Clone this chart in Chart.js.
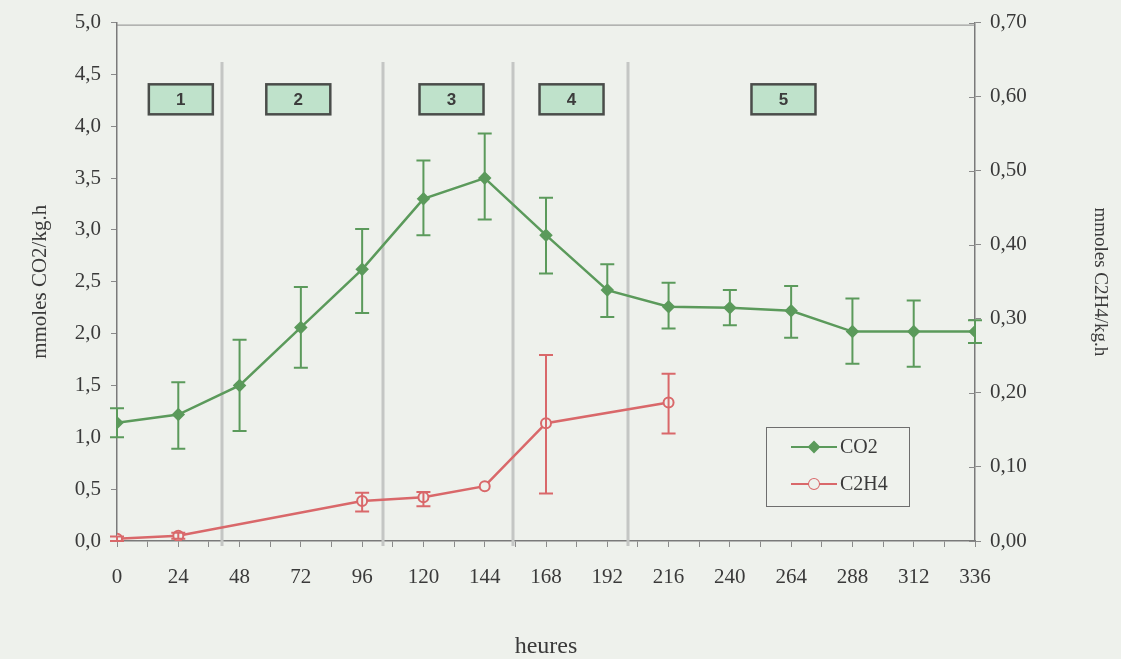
<!DOCTYPE html>
<html>
<head>
<meta charset="utf-8">
<script src="https://cdn.jsdelivr.net/npm/chart.js@4.4.0/dist/chart.umd.min.js"></script>
<style>
  html, body { margin: 0; padding: 0; background: #eef1ec; }
  #wrap { width: 1121px; height: 659px; }
</style>
</head>
<body>
<div id="wrap"><canvas id="myChart" width="1121" height="659"></canvas></div>
<script>
// CO2 (left axis, mmoles/kg.h)
const co2Hours = [0, 24, 48, 72, 96, 120, 144, 168, 192, 216, 240, 264, 288, 312, 336];
const co2Values = [1.14, 1.22, 1.50, 2.06, 2.62, 3.30, 3.50, 2.95, 2.42, 2.26, 2.25, 2.22, 2.02, 2.02, 2.02];
const co2High = [1.28, 1.53, 1.94, 2.45, 3.01, 3.67, 3.93, 3.31, 2.67, 2.49, 2.42, 2.46, 2.34, 2.32, 2.13];
const co2Low = [1.00, 0.89, 1.06, 1.67, 2.20, 2.95, 3.10, 2.58, 2.16, 2.05, 2.08, 1.96, 1.71, 1.68, 1.91];

// C2H4 (right axis)
const c2h4Hours = [0, 24, 96, 120, 144, 168, 216];
const c2h4Values = [0.003, 0.007, 0.054, 0.059, 0.074, 0.159, 0.187];
const c2h4High = [0.006, 0.011, 0.065, 0.066, 0.076, 0.251, 0.226];
const c2h4Low = [0.000, 0.003, 0.040, 0.047, 0.072, 0.064, 0.145];

// phases
const phaseBounds = [41, 104, 155, 200];
const phaseLabels = ['1', '2', '3', '4', '5'];
const phaseCenters = [25, 71, 131, 178, 261];

const GREEN = '#5b9a5b';
const RED = '#d9686a';
const SERIF = '"Liberation Serif", "DejaVu Serif", serif';

function toPoints(xs, ys) {
    return xs.map((x, i) => ({ x: x, y: ys[i] }));
}

// phase separators + numbered boxes
const phasePlugin = {
    id: 'phases',
    beforeDatasetsDraw(chart) {
        const ctx = chart.ctx;
        const xs = chart.scales.x;
        const ys = chart.scales.y;
        const area = chart.chartArea;
        ctx.save();
        ctx.strokeStyle = '#c4c6c4';
        ctx.lineWidth = 3;
        phaseBounds.forEach(h => {
            const px = Math.round(xs.getPixelForValue(h));
            ctx.beginPath();
            ctx.moveTo(px, ys.getPixelForValue(4.62));
            ctx.lineTo(px, area.bottom + 5);
            ctx.stroke();
        });
        const cy = ys.getPixelForValue(4.26);
        ctx.font = 'bold 17px "Liberation Sans", Arial, sans-serif';
        ctx.textAlign = 'center';
        ctx.textBaseline = 'middle';
        phaseLabels.forEach((lab, i) => {
            const cx = xs.getPixelForValue(phaseCenters[i]);
            ctx.fillStyle = '#bfe2cb';
            ctx.fillRect(cx - 32, cy - 15, 64, 30);
            ctx.strokeStyle = '#4a4d4a';
            ctx.lineWidth = 2.5;
            ctx.strokeRect(cx - 32, cy - 15, 64, 30);
            ctx.fillStyle = '#3c3c3c';
            ctx.fillText(lab, cx, cy + 1);
        });
        // top border of the plot box
        ctx.strokeStyle = '#8a8a8a';
        ctx.lineWidth = 1;
        ctx.beginPath();
        ctx.moveTo(area.left, area.top + 2.5);
        ctx.lineTo(area.right, area.top + 2.5);
        ctx.stroke();
        // right axis ticks also cross inside
        const y1 = chart.scales.y1;
        ctx.beginPath();
        y1.ticks.forEach(t => {
            const py = Math.round(y1.getPixelForValue(t.value)) + 0.5;
            ctx.moveTo(area.right - 6, py);
            ctx.lineTo(area.right, py);
        });
        ctx.stroke();
        ctx.restore();
    }
};

// error bars drawn through the scales
const errorBarPlugin = {
    id: 'errorBars',
    afterDatasetsDraw(chart) {
        const ctx = chart.ctx;
        const xs = chart.scales.x;
        const sets = [
            { hours: co2Hours, low: co2Low, high: co2High, axis: chart.scales.y, color: GREEN },
            { hours: c2h4Hours, low: c2h4Low, high: c2h4High, axis: chart.scales.y1, color: RED }
        ];
        ctx.save();
        sets.forEach(s => {
            ctx.strokeStyle = s.color;
            ctx.lineWidth = 2;
            s.hours.forEach((h, i) => {
                const px = xs.getPixelForValue(h);
                const top = s.axis.getPixelForValue(s.high[i]);
                const bot = s.axis.getPixelForValue(s.low[i]);
                if (Math.abs(bot - top) < 3) return;
                ctx.beginPath();
                ctx.moveTo(px, top); ctx.lineTo(px, bot);
                ctx.moveTo(px - 7, top); ctx.lineTo(px + 7, top);
                ctx.moveTo(px - 7, bot); ctx.lineTo(px + 7, bot);
                ctx.stroke();
            });
        });
        ctx.restore();
    }
};

// boxed legend inside the plot
const boxLegendPlugin = {
    id: 'boxLegend',
    afterDraw(chart) {
        const ctx = chart.ctx;
        const left = 766, top = 427, w = 143, h = 79;
        ctx.save();
        ctx.fillStyle = '#eff2ed';
        ctx.fillRect(left, top, w, h);
        ctx.strokeStyle = '#6e6e6e';
        ctx.lineWidth = 1;
        ctx.strokeRect(left + 0.5, top + 0.5, w, h);
        chart.data.datasets.forEach((ds, i) => {
            const y = top + 20 + i * 37;
            ctx.strokeStyle = ds.borderColor;
            ctx.lineWidth = 2;
            ctx.beginPath();
            ctx.moveTo(791, y); ctx.lineTo(837, y);
            ctx.stroke();
            Chart.helpers.drawPoint(ctx, {
                pointStyle: ds.pointStyle, radius: ds.pointRadius, borderWidth: 2
            }, 814, y);
            ctx.fillStyle = ds.pointBackgroundColor;
            ctx.strokeStyle = ds.borderColor;
            ctx.fill();
            ctx.fillStyle = '#3a3a3a';
            ctx.font = '20px ' + SERIF;
            ctx.textAlign = 'left';
            ctx.textBaseline = 'middle';
            ctx.fillText(ds.label, 840, y + 1);
        });
        ctx.restore();
    }
};

const ctx = document.getElementById('myChart').getContext('2d');
const myChart = new Chart(ctx, {
    type: 'line',
    data: {
        datasets: [{
            label: 'CO2',
            data: toPoints(co2Hours, co2Values),
            yAxisID: 'y',
            borderColor: GREEN,
            backgroundColor: GREEN,
            pointBackgroundColor: GREEN,
            pointBorderColor: GREEN,
            pointStyle: 'rectRot',
            pointRadius: 5,
            borderWidth: 2.5,
            tension: 0
        }, {
            label: 'C2H4',
            data: toPoints(c2h4Hours, c2h4Values),
            yAxisID: 'y1',
            borderColor: RED,
            backgroundColor: RED,
            pointBackgroundColor: '#eef1ec',
            pointBorderColor: RED,
            pointBorderWidth: 2,
            pointStyle: 'circle',
            pointRadius: 5,
            borderWidth: 2.5,
            tension: 0
        }]
    },
    options: {
        responsive: false,
        animation: false,
        devicePixelRatio: 1,
        layout: { padding: { top: 20, left: 0, right: 0, bottom: 0 } },
        plugins: {
            legend: { display: false },
            tooltip: { enabled: false }
        },
        scales: {
            x: {
                type: 'linear',
                min: 0,
                max: 336,
                afterFit: s => { s.height = 118; },
                ticks: {
                    stepSize: 12,
                    autoSkip: false,
                    maxRotation: 0,
                    padding: 18,
                    color: '#3a3a3a',
                    font: { family: SERIF, size: 21 },
                    callback: v => (v % 24 === 0 ? String(v) : '')
                },
                grid: { drawOnChartArea: false, drawTicks: true, tickLength: 6, color: '#8a8a8a' },
                border: { color: '#7a7a7a', width: 1.5 },
                title: {
                    display: true,
                    text: 'heures',
                    color: '#3a3a3a',
                    font: { family: SERIF, size: 24, lineHeight: 1.0 },
                    padding: { top: 0, bottom: 0 }
                }
            },
            y: {
                position: 'left',
                min: 0,
                max: 5,
                afterFit: s => { s.width = 117; },
                ticks: {
                    stepSize: 0.5,
                    padding: 10,
                    color: '#3a3a3a',
                    font: { family: SERIF, size: 21 },
                    callback: v => v.toFixed(1).replace('.', ',')
                },
                grid: { drawOnChartArea: false, drawTicks: true, tickLength: 6, color: '#8a8a8a' },
                border: { color: '#7a7a7a', width: 1.5 },
                title: {
                    display: true,
                    text: 'mmoles CO2/kg.h',
                    color: '#3a3a3a',
                    font: { family: SERIF, size: 21 },
                    padding: { top: 28, bottom: 0 }
                }
            },
            y1: {
                position: 'right',
                min: 0,
                max: 0.7,
                afterFit: s => { s.width = 146; },
                ticks: {
                    stepSize: 0.1,
                    padding: 9,
                    color: '#3a3a3a',
                    font: { family: SERIF, size: 21 },
                    callback: v => v.toFixed(2).replace('.', ',')
                },
                grid: { drawOnChartArea: false, drawTicks: true, tickLength: 6, color: '#8a8a8a' },
                border: { color: '#7a7a7a', width: 1.5 },
                title: {
                    display: true,
                    text: 'mmoles C2H4/kg.h',
                    color: '#3a3a3a',
                    font: { family: SERIF, size: 19 },
                    padding: { top: 10, bottom: 0 }
                }
            }
        }
    },
    plugins: [phasePlugin, errorBarPlugin, boxLegendPlugin]
});
</script>
</body>
</html>
